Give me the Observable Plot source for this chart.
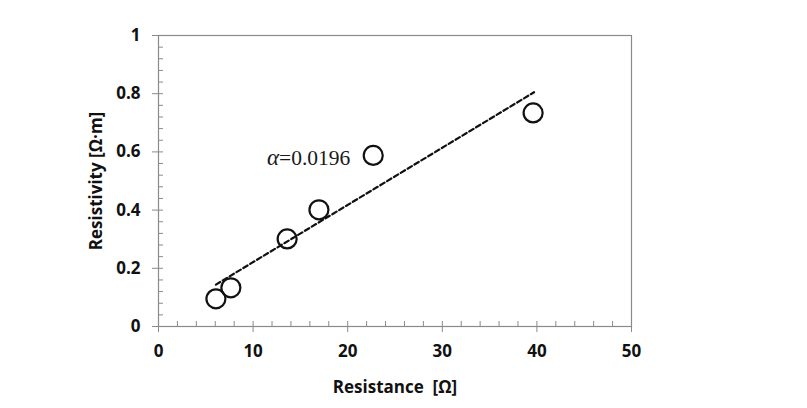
<!DOCTYPE html>
<html><head><meta charset="utf-8">
<script src="https://cdn.jsdelivr.net/npm/d3@7"></script>
<script src="https://cdn.jsdelivr.net/npm/@observablehq/plot@0.6"></script>
<style>body{margin:0;background:#fff}</style>
</head><body><div id="chart"></div>
<script>
// Data
const resistance = [6.07, 7.65, 13.6, 16.96, 22.7, 39.6];
const resistivity = [0.095, 0.133, 0.301, 0.401, 0.588, 0.734];
const fitX = [6.07, 39.7];
const fitY = [0.144, 0.805];
const xTicks = [0, 10, 20, 30, 40, 50];
const yTicks = [0, 0.2, 0.4, 0.6, 0.8, 1];
const yTickLabels = ["0", "0.2", "0.4", "0.6", "0.8", "1"];
const xMinorTicks = d3.range(0, 50.001, 2);
const yMinorTicks = d3.range(0, 1.0001, 0.04);
const annotationSymbol = "α";
const annotationValue = "=0.0196";
const annotationPos = {x: 12.75, y: 0.58};

const points = resistance.map((x, i) => ({x, y: resistivity[i]}));
const fit = fitX.map((x, i) => ({x, y: fitY[i]}));

const W = 807, H = 408;
const mL = 158, mR = 176, mT = 35, mB = 82;
const plotW = W - mL - mR, plotH = H - mT - mB;
const grey = "#8a8a8a";

const chart = Plot.plot({
  width: W, height: H,
  marginLeft: mL, marginRight: mR, marginTop: mT, marginBottom: mB,
  style: {fontFamily: "'Open Sans', sans-serif", fontWeight: "bold", fontSize: "17px", color: "#111", background: "#fff"},
  x: {domain: [0, 50]},
  y: {domain: [0, 1]},
  marks: [
    Plot.frame({stroke: grey, strokeWidth: 1.2}),
    Plot.tickX(xMinorTicks, {x: d => d, insetTop: plotH - 5, stroke: grey}),
    Plot.tickY(yMinorTicks, {y: d => d, insetRight: plotW - 5, stroke: grey}),
    Plot.axisX({ticks: xTicks, tickSize: 6, tickPadding: 12, stroke: grey, fill: "#111", fontSize: 17,
      label: "Resistance  [Ω]", labelAnchor: "center", labelArrow: "none", labelOffset: 66}),
    Plot.axisY({ticks: yTicks, tickSize: 6, tickPadding: 12, stroke: grey, fill: "#111", fontSize: 17,
      tickFormat: (d, i) => yTickLabels[i],
      label: "Resistivity [Ω·m]", labelAnchor: "center", labelArrow: "none", labelOffset: 69}),
    Plot.line(fit, {x: "x", y: "y", stroke: "#111", strokeWidth: 2.2, strokeDasharray: "5,3"}),
    Plot.dot(points, {x: "x", y: "y", r: 9.5, stroke: "#111", strokeWidth: 2.2, fill: "none"}),
    Plot.text([annotationPos], {x: "x", y: "y", text: () => annotationSymbol, textAnchor: "end",
      fontFamily: "'Liberation Serif', serif", fontStyle: "italic", fontWeight: "normal", fontSize: 23, fill: "#1a1a1a"}),
    Plot.text([annotationPos], {x: "x", y: "y", text: () => annotationValue, textAnchor: "start",
      fontFamily: "'Liberation Serif', serif", fontWeight: "normal", fontSize: 21.5, fill: "#1a1a1a"})
  ]
});
document.getElementById("chart").appendChild(chart);
</script>
</body></html>
